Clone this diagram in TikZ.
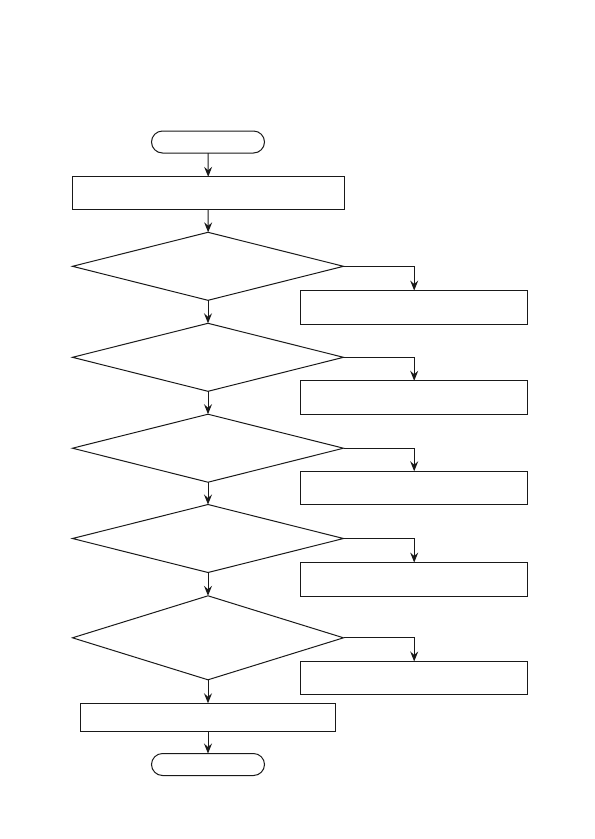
\documentclass[tikz,border=0pt]{standalone}
\usetikzlibrary{shapes.geometric,arrows.meta}
\begin{document}
\begin{tikzpicture}[x=1pt,y=-1pt,
  every node/.style={draw=black!90,line width=1pt,inner sep=0pt,outer sep=0pt},
  term/.style={rectangle,rounded corners=11pt,minimum width=113pt,minimum height=22pt},
  proc/.style={rectangle,minimum width=272pt,minimum height=33pt},
  side/.style={rectangle,minimum width=227pt,minimum height=33.5pt},
  dec/.style={diamond,minimum width=271pt,minimum height=68pt},
  conn/.style={draw=black!90,line width=1pt,-{Stealth[length=10pt,width=8pt,inset=3.5pt]}}]
\useasboundingbox (0,0) rectangle (595,839);
\node[term] (start) at (208,142) {};
\node[proc] (b1) at (208.3,193.3) {};
\node[dec] (d1) at (208,266.3) {};
\node[dec] (d2) at (208,357.3) {};
\node[dec] (d3) at (208,448.2) {};
\node[dec] (d4) at (208,538.5) {};
\node[dec,minimum height=84pt] (d5) at (208,637.8) {};
\node[proc,minimum width=254.6pt,minimum height=28pt] (b2) at (208,717.3) {};
\node[term] (stop) at (208,764.5) {};
\node[side] (s1) at (414.2,307.3) {};
\node[side] (s2) at (414.2,397.5) {};
\node[side] (s3) at (414.2,488) {};
\node[side] (s4) at (414.2,579.3) {};
\node[side] (s5) at (414.2,678.2) {};
\draw[conn] (start) -- (b1);
\draw[conn] (b1) -- (d1);
\draw[conn] (d1) -- (d2);
\draw[conn] (d2) -- (d3);
\draw[conn] (d3) -- (d4);
\draw[conn] (d4) -- (d5);
\draw[conn] (d5) -- (b2);
\draw[conn] (b2) -- (stop);
\draw[conn] (d1.east) -| (s1.north);
\draw[conn] (d2.east) -| (s2.north);
\draw[conn] (d3.east) -| (s3.north);
\draw[conn] (d4.east) -| (s4.north);
\draw[conn] (d5.east) -| (s5.north);
\end{tikzpicture}
\end{document}
